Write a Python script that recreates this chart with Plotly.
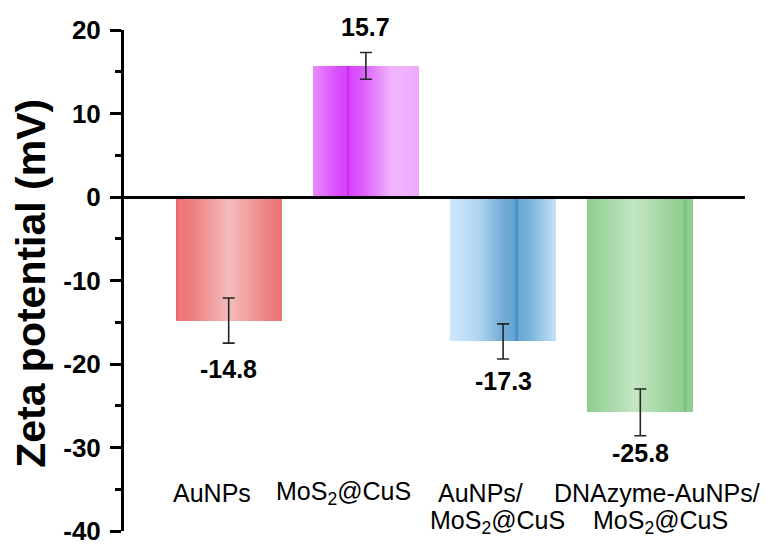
import plotly.graph_objects as go

# ---- data ----
categories = ["AuNPs", "MoS2@CuS", "AuNPs/MoS2@CuS", "DNAzyme-AuNPs/MoS2@CuS"]
label_line1 = ["AuNPs", "MoS<sub>2</sub>@CuS", "AuNPs/", "DNAzyme-AuNPs/"]
label_line2 = ["", "", "MoS<sub>2</sub>@CuS", "MoS<sub>2</sub>@CuS"]
values = [-14.8, 15.7, -17.3, -25.8]
errors = [2.7, 1.6, 2.1, 2.8]
value_text = ["-14.8", "15.7", "-17.3", "-25.8"]
y_ticks = [-40, -30, -20, -10, 0, 10, 20]

# ---- styling ----
FONT = "Arial, Liberation Sans, Helvetica, sans-serif"
BAR_W = 0.774
N_SLICES = 53
value_label_shift = [26, 26, 22, 17]
line1_shift = [-17, -22, -23, 17]
line2_shift = [0, 0, -6, 20]

# gradient stops (fraction across bar, rgb) for each bar
gradients = [
    [(0.0, (232, 96, 96)), (0.02, (237, 118, 118)), (0.15, (238, 126, 126)), (0.5, (243, 188, 188)),
     (0.85, (237, 132, 132)), (1.0, (236, 114, 114))],
    [(0.0, (232, 140, 250)), (0.2, (220, 85, 250)), (0.32, (214, 66, 250)), (0.335, (200, 30, 240)),
     (0.35, (215, 70, 250)), (0.45, (220, 88, 250)), (0.75, (240, 182, 252)), (1.0, (236, 170, 250))],
    [(0.0, (206, 232, 250)), (0.25, (180, 216, 243)), (0.5, (115, 172, 214)), (0.61, (104, 165, 210)),
     (0.625, (40, 128, 198)), (0.64, (104, 165, 210)), (0.75, (120, 178, 218)), (1.0, (196, 226, 248))],
    [(0.0, (142, 205, 142)), (0.45, (196, 230, 196)), (0.8, (152, 210, 152)), (0.91, (145, 206, 145)),
     (0.925, (100, 178, 100)), (0.94, (145, 206, 145)), (1.0, (146, 206, 146))],
]


def grad_color(stops, t):
    for (t0, c0), (t1, c1) in zip(stops[:-1], stops[1:]):
        if t0 <= t <= t1:
            f = 0 if t1 == t0 else (t - t0) / (t1 - t0)
            c = [round(a + (b - a) * f) for a, b in zip(c0, c1)]
            return f"rgb({c[0]},{c[1]},{c[2]})"
    c = stops[-1][1]
    return f"rgb({c[0]},{c[1]},{c[2]})"


x_pos = list(range(len(categories)))
fig = go.Figure()

step = BAR_W / N_SLICES
for j in range(N_SLICES):
    t = (j + 0.5) / N_SLICES
    fig.add_trace(go.Bar(
        x=x_pos, y=values,
        width=[step * 1.15 if j < N_SLICES - 1 else step] * len(x_pos),
        offset=[-BAR_W / 2 + j * step] * len(x_pos),
        marker=dict(color=[grad_color(g, t) for g in gradients], line=dict(width=0)),
        showlegend=False, hoverinfo="skip",
    ))

# error bars
fig.add_trace(go.Scatter(
    x=x_pos, y=values, mode="markers",
    marker=dict(size=1, opacity=0),
    error_y=dict(type="data", array=errors, visible=True, color="#262626", thickness=1.6, width=6),
    showlegend=False, hoverinfo="skip",
))

annotations = []
# value labels
for i, (v, e, txt) in enumerate(zip(values, errors, value_text)):
    sign = 1 if v >= 0 else -1
    annotations.append(dict(
        x=i, y=v + sign * e, xref="x", yref="y", text=txt, showarrow=False,
        yshift=sign * value_label_shift[i], yanchor="middle",
        font=dict(family=FONT, size=25, color="black", weight="bold"),
    ))

# category labels (two lines)
for i, (l1, l2) in enumerate(zip(label_line1, label_line2)):
    annotations.append(dict(
        x=i, y=-35.4, xref="x", yref="y", text=l1, showarrow=False, xshift=line1_shift[i],
        yanchor="middle", font=dict(family=FONT, size=25, color="black"),
    ))
    if l2:
        annotations.append(dict(
            x=i, y=-38.9, xref="x", yref="y", text=l2, showarrow=False, xshift=line2_shift[i],
            yanchor="middle", font=dict(family=FONT, size=25, color="black"),
        ))

# y axis title
annotations.append(dict(
    x=-0.150, y=0.495, xref="paper", yref="paper", text="Zeta potential (mV)", showarrow=False,
    textangle=-90, xanchor="center", yanchor="middle",
    font=dict(family=FONT, size=41, color="black", weight="bold"),
))

fig.update_layout(
    width=766, height=537,
    margin=dict(l=116, r=29, t=22, b=14, autoexpand=False),
    paper_bgcolor="white", plot_bgcolor="white",
    barmode="overlay", bargap=0,
    annotations=annotations,
    xaxis=dict(
        range=[-0.763, 3.763], anchor="free", position=40 / 60,
        showline=True, linewidth=3, linecolor="black",
        ticks="", showticklabels=False, showgrid=False, zeroline=False,
        layer="above traces", automargin=False,
    ),
    yaxis=dict(
        range=[-40, 20], tickvals=y_ticks, ticktext=[str(v) for v in y_ticks],
        showline=True, linewidth=3, linecolor="black",
        ticks="outside", ticklen=11, tickwidth=3, tickcolor="black",
        minor=dict(ticks="outside", ticklen=6, tickwidth=3, tickcolor="black", dtick=5, tick0=0, showgrid=False),
        tickfont=dict(family=FONT, size=26, color="black", weight="bold"),
        ticklabelstandoff=4, ticklabeloverflow="allow", automargin=False,
        showgrid=False, zeroline=False,
    ),
)

fig.write_html("out.html")
